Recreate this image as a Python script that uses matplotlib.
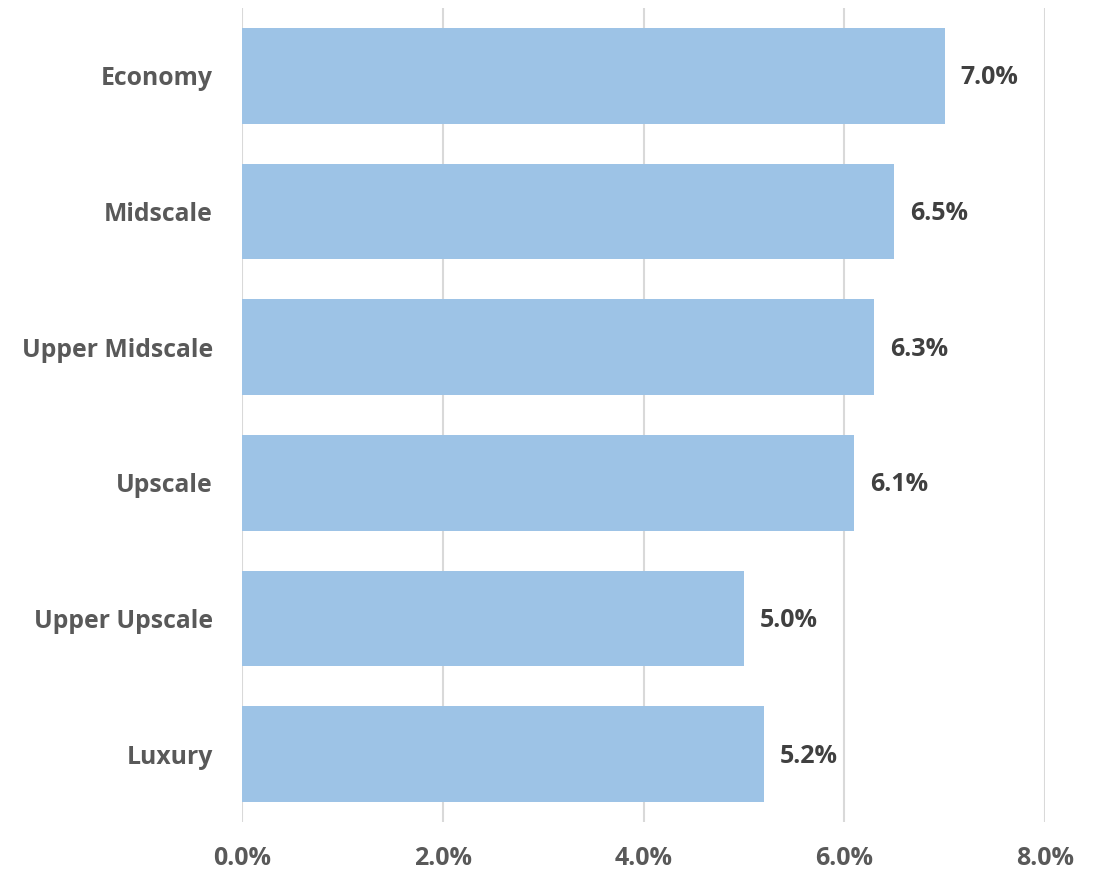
import matplotlib
matplotlib.use("Agg")
import matplotlib.pyplot as plt
from matplotlib.ticker import FuncFormatter

categories = ["Economy", "Midscale", "Upper Midscale", "Upscale", "Upper Upscale", "Luxury"]
values = [7.0, 6.5, 6.3, 6.1, 5.0, 5.2]
xticks = [0, 2, 4, 6, 8]

plt.rcParams["font.family"] = ["Open Sans", "DejaVu Sans"]

fig = plt.figure(figsize=(10.99, 8.74), dpi=100)
ax = fig.add_axes([242 / 1099, 52 / 874, (1045 - 242) / 1099, (822 - 8) / 874])

ypos = list(range(len(categories)))[::-1]
ax.barh(ypos, values, height=0.706, color="#9DC3E6", zorder=2)

for y, v in zip(ypos, values):
    ax.annotate(f"{v:.1f}%", xy=(v, y), xytext=(16, -2), textcoords="offset pixels",
                va="center", ha="left", fontsize=18, fontweight="bold", color="#404040")

ax.set_xlim(0, 8)
ax.set_ylim(-0.5, len(categories) - 0.5)
ax.set_xticks(xticks)
ax.xaxis.set_major_formatter(FuncFormatter(lambda x, _: f"{x:.1f}%"))
ax.set_yticks(ypos)
ax.set_yticklabels(categories)

ax.grid(axis="x", color="#D9D9D9", linewidth=1.5, zorder=0)
for s in ax.spines.values():
    s.set_visible(False)

ax.tick_params(axis="x", length=0, pad=17, labelsize=18, labelcolor="#595959")
ax.tick_params(axis="y", length=0, pad=21, labelsize=17.8, labelcolor="#595959")
for lbl in ax.get_xticklabels() + ax.get_yticklabels():
    lbl.set_fontweight("bold")

fig.savefig("out.png", dpi=100)
